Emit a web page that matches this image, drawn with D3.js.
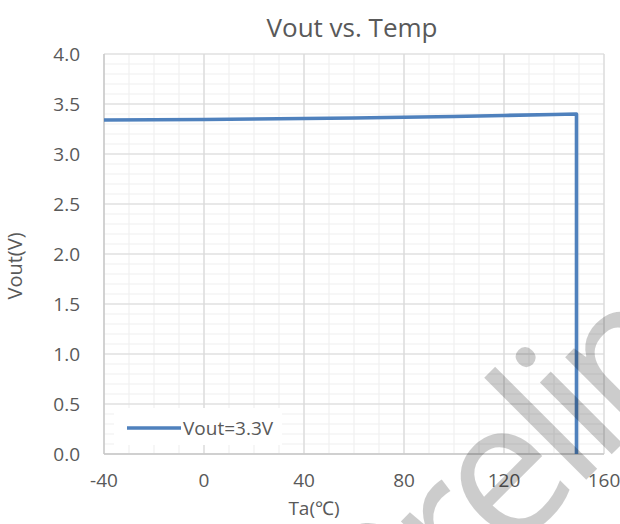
<!DOCTYPE html>
<html><head><meta charset="utf-8">
<script src="https://cdn.jsdelivr.net/npm/d3@7"></script>
<style>body{margin:0;background:#fff}svg{display:block}text{font-family:"Open Sans",sans-serif}</style>
</head><body>
<svg id="c" width="620" height="524"></svg>
<script>
const temps = [-40, -20, 0, 20, 40, 60, 80, 100, 120, 140, 149, 149];
const vout  = [3.34, 3.342, 3.345, 3.35, 3.355, 3.36, 3.367, 3.375, 3.385, 3.395, 3.40, 0];
const xTicks = [-40, 0, 40, 80, 120, 160];
const yTicks = [0, 0.5, 1.0, 1.5, 2.0, 2.5, 3.0, 3.5, 4.0];
const seriesName = "Vout=3.3V";
const title = "Vout vs. Temp";
const xTitle = "Ta(℃)";
const yTitle = "Vout(V)";
const watermark = "Preliminary";

const svg = d3.select("#c");
const L = 104, R = 604, T = 54, B = 454;
const x = d3.scaleLinear().domain([-40, 160]).range([L, R]);
const y = d3.scaleLinear().domain([0, 4]).range([B, T]);
const grey = "#595959";

// minor grid
const g = svg.append("g");
g.selectAll(".mx").data(d3.range(-40, 161, 10)).join("line")
  .attr("x1", d => x(d)).attr("x2", d => x(d)).attr("y1", T).attr("y2", B)
  .attr("stroke", "#f0f0f0").attr("stroke-width", 1.2);
g.selectAll(".my").data(d3.range(0, 41, 1).map(d => d / 10)).join("line")
  .attr("y1", d => y(d)).attr("y2", d => y(d)).attr("x1", L).attr("x2", R)
  .attr("stroke", "#f0f0f0").attr("stroke-width", 1.2);
// major grid
g.selectAll(".Mx").data(xTicks).join("line")
  .attr("x1", d => x(d)).attr("x2", d => x(d)).attr("y1", T).attr("y2", B)
  .attr("stroke", "#d9d9d9").attr("stroke-width", 1.2);
g.selectAll(".My").data(yTicks).join("line")
  .attr("y1", d => y(d)).attr("y2", d => y(d)).attr("x1", L).attr("x2", R)
  .attr("stroke", "#d9d9d9").attr("stroke-width", 1.2);
// axis lines
g.append("line").attr("x1", L).attr("x2", L).attr("y1", T).attr("y2", B).attr("stroke", "#c8c8c8").attr("stroke-width", 1.3);
g.append("line").attr("x1", L).attr("x2", R).attr("y1", B).attr("y2", B).attr("stroke", "#c8c8c8").attr("stroke-width", 1.3);

// tick labels
svg.append("g").selectAll("text").data(xTicks).join("text")
  .attr("x", d => x(d)).attr("y", 487).attr("text-anchor", "middle")
  .attr("font-size", 19).attr("fill", grey).text(d => d);
svg.append("g").selectAll("text").data(yTicks).join("text")
  .attr("x", 80).attr("y", d => y(d) + 7).attr("text-anchor", "end")
  .attr("font-size", 19).attr("fill", grey).text(d => d3.format(".1f")(d));

// data line
const pts = temps.map((t, i) => [t, vout[i]]);
svg.append("path").datum(pts)
  .attr("d", d3.line().x(d => x(d[0])).y(d => y(d[1])))
  .attr("fill", "none").attr("stroke", "#4f81bd").attr("stroke-width", 3.6)
  .attr("stroke-linejoin", "round");

// legend
const lg = svg.append("g");
lg.append("rect").attr("x", 114).attr("y", 408).attr("width", 168).attr("height", 37).attr("fill", "#fff");
lg.append("line").attr("x1", 127).attr("x2", 181).attr("y1", 428).attr("y2", 428)
  .attr("stroke", "#4f81bd").attr("stroke-width", 3.6);
lg.append("text").attr("x", 183).attr("y", 435).attr("font-size", 19).attr("fill", grey).text(seriesName);

// titles
svg.append("text").attr("x", 352).attr("y", 37).attr("text-anchor", "middle")
  .attr("font-size", 26).attr("fill", grey).text(title);
svg.append("text").attr("x", 314).attr("y", 515).attr("text-anchor", "middle")
  .attr("font-size", 19).attr("fill", grey).text(xTitle);
svg.append("text").attr("transform", "translate(22,266) rotate(-90)").attr("text-anchor", "middle")
  .attr("font-size", 20).attr("fill", grey).text(yTitle);

// watermark
svg.append("text").attr("transform", "translate(389,677) rotate(-45)")
  .attr("font-family", "Lato").attr("font-size", 190).attr("fill", "#000").attr("fill-opacity", 0.2)
  .attr("letter-spacing", -12)
  .text(watermark);
</script>
</body></html>
